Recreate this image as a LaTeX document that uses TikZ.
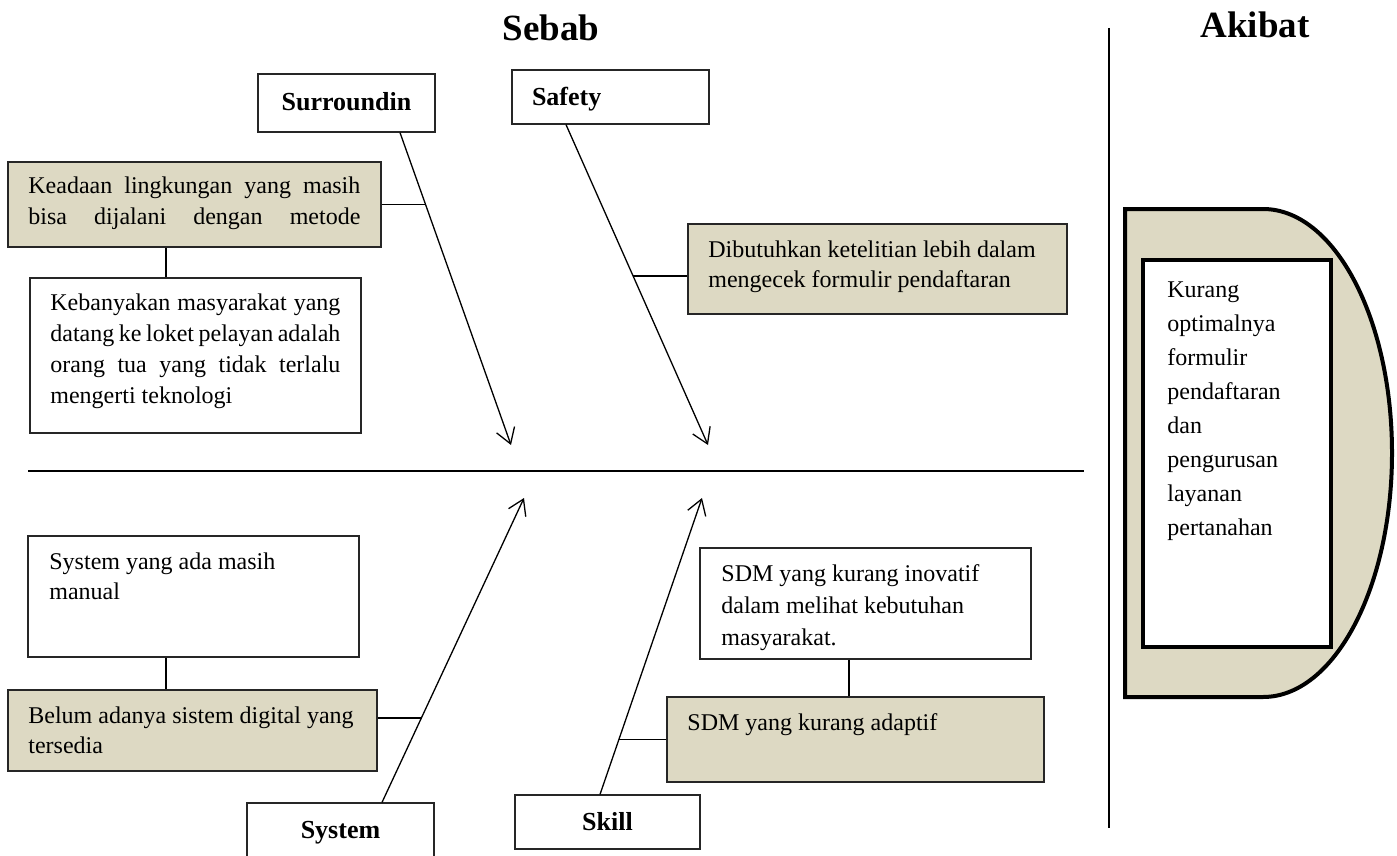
\documentclass[tikz,border=0pt]{standalone}
\usepackage{fontspec}
\setmainfont{Liberation Serif}
\usetikzlibrary{arrows.meta,calc}
\definecolor{khaki}{HTML}{DDD9C3}
\newcommand{\jline}[2]{\makebox[#1][s]{\spaceskip=0.25em plus 1fil minus 0.08em\relax #2}}
\begin{document}
\begin{tikzpicture}[x=0.5pt,y=-0.5pt,
	every node/.style={inner sep=0},
	title/.style={font=\fontsize{18.5}{22}\selectfont\bfseries},
	cause/.style={draw=black!85,line width=0.6pt,fill=white,text height=8pt,text depth=0pt,font=\fontsize{13}{15}\selectfont\bfseries},
	note/.style={draw=black!85,line width=0.6pt,fill=white},
	shade/.style={note,fill=khaki},
	txt/.style={anchor=base west,font=\fontsize{12}{15}\selectfont,
		execute at begin node={\spaceskip=0.25em plus 0.12em minus 0.08em\relax}},
	bone/.style={line width=0.65pt,-{Straight Barb[length=7.5pt,width=9.5pt]}},
	twig/.style={line width=0.65pt}]
\useasboundingbox (0,0) rectangle (1397,856);
\node[title] (sebab) at (551,28) {Sebab};
\node[title] (akibat) at (1255,25) {Akibat};
\draw[line width=0.7pt] (1109,28) -- (1109,828);
\draw[line width=0.85pt] (28,471) -- (1084,471);
\coordinate (surrtip) at (511,445);
\coordinate (safetip) at (708,445);
\coordinate (systip) at (524,498);
\coordinate (skilltip) at (702,498);
\coordinate (surrjoin) at (425.7,204.5);
\coordinate (safejoin) at (633.2,276);
\coordinate (sysjoin) at (421.6,718);
\coordinate (skilljoin) at (619.1,739.5);
\node[cause,minimum width=88.5pt,minimum height=29pt] (surr) at (346.5,103) {Surroundin};
\node[cause,minimum width=98.5pt,minimum height=27pt,text width=78.5pt,align=left] (safety) at (610.5,97) {Safety};
\node[cause,minimum width=93.5pt,minimum height=27pt] (system) at (340.5,830) {System};
\node[cause,minimum width=92.5pt,minimum height=27pt] (skill) at (607.5,822) {Skill};
\draw[bone] ($(surr.south)+(53.5,0)$) -- (surrtip);
\draw[bone] ($(safety.south)+(-44.5,0)$) -- (safetip);
\draw[bone] ($(system.north)+(41.5,0)$) -- (systip);
\draw[bone] ($(skill.north)+(-7.5,0)$) -- (skilltip);
\node[shade,minimum width=186.5pt,minimum height=42.5pt] (keadaan) at (194.5,204.5) {};
\node[note,minimum width=165.5pt,minimum height=77.5pt] (kebanyakan) at (195.5,355.5) {};
\node[note,minimum width=165.5pt,minimum height=60.5pt] (manual) at (193.5,596.5) {};
\node[shade,minimum width=184.5pt,minimum height=40.5pt] (digital) at (192.5,730.5) {};
\node[shade,minimum width=189.5pt,minimum height=45pt] (teliti) at (877.5,269) {};
\node[note,minimum width=165.5pt,minimum height=55.5pt] (inovatif) at (865.5,603.5) {};
\node[shade,minimum width=188.5pt,minimum height=42.5pt] (adaptif) at (855.5,739.5) {};
\node[txt,text width=166pt,font=\fontsize{12}{15.5}\selectfont] (keadaantxt) at (28,193) {\jline{166pt}{Keadaan lingkungan yang masih}\\\jline{166pt}{bisa dijalani dengan metode}};
\node[txt,text width=145pt,font=\fontsize{12}{15.6}\selectfont] (kebanyakantxt) at (50,310) {\jline{145pt}{Kebanyakan masyarakat yang}\\\jline{145pt}{datang ke loket pelayan adalah}\\\jline{145pt}{orang tua yang tidak terlalu}\\mengerti teknologi};
\node[txt,text width=160pt] (manualtxt) at (49,569) {System yang ada masih\\manual};
\node[txt,text width=170pt] (digitaltxt) at (28,723) {Belum adanya sistem digital yang\\tersedia};
\node[txt,text width=180pt] (telititxt) at (708,257) {Dibutuhkan ketelitian lebih dalam\\mengecek formulir pendaftaran};
\node[txt,text width=160pt,font=\fontsize{12}{16}\selectfont] (inovatiftxt) at (721,581) {SDM yang kurang inovatif\\dalam melihat kebutuhan\\masyarakat.};
\node[txt,text width=170pt] (adaptiftxt) at (687,730) {SDM yang kurang adaptif};
\draw[twig] ($(keadaan.south)+(-28.5,0)$) -- ($(kebanyakan.north)+(-29.5,0)$);
\draw[twig] ($(manual.south)+(-27.5,0)$) -- ($(digital.north)+(-26.5,0)$);
\draw[twig] ($(inovatif.south)+(-16.5,0)$) -- ($(adaptif.north)+(-6.5,0)$);
\draw[twig] (keadaan.east) -- (surrjoin);
\draw[twig] (safejoin) -- (safejoin -| teliti.west);
\draw[twig] (sysjoin -| digital.east) -- (sysjoin);
\draw[twig] (skilljoin) -- (adaptif.west);
\draw[line width=2pt,fill=khaki] (1125,209) -- (1263,209) arc[start angle=90,end angle=-90,x radius=64.5pt,y radius=122pt] -- (1125,697) -- cycle;
\node[draw,line width=2.2pt,fill=white,minimum width=94pt,minimum height=193.5pt] (akibatbox) at (1237,453.5) {};
\node[txt,text width=80pt,font=\fontsize{12}{17}\selectfont] (akibattxt) at (1167,297) {Kurang\\optimalnya\\formulir\\pendaftaran\\dan\\pengurusan\\layanan\\pertanahan};
\end{tikzpicture}
\end{document}
